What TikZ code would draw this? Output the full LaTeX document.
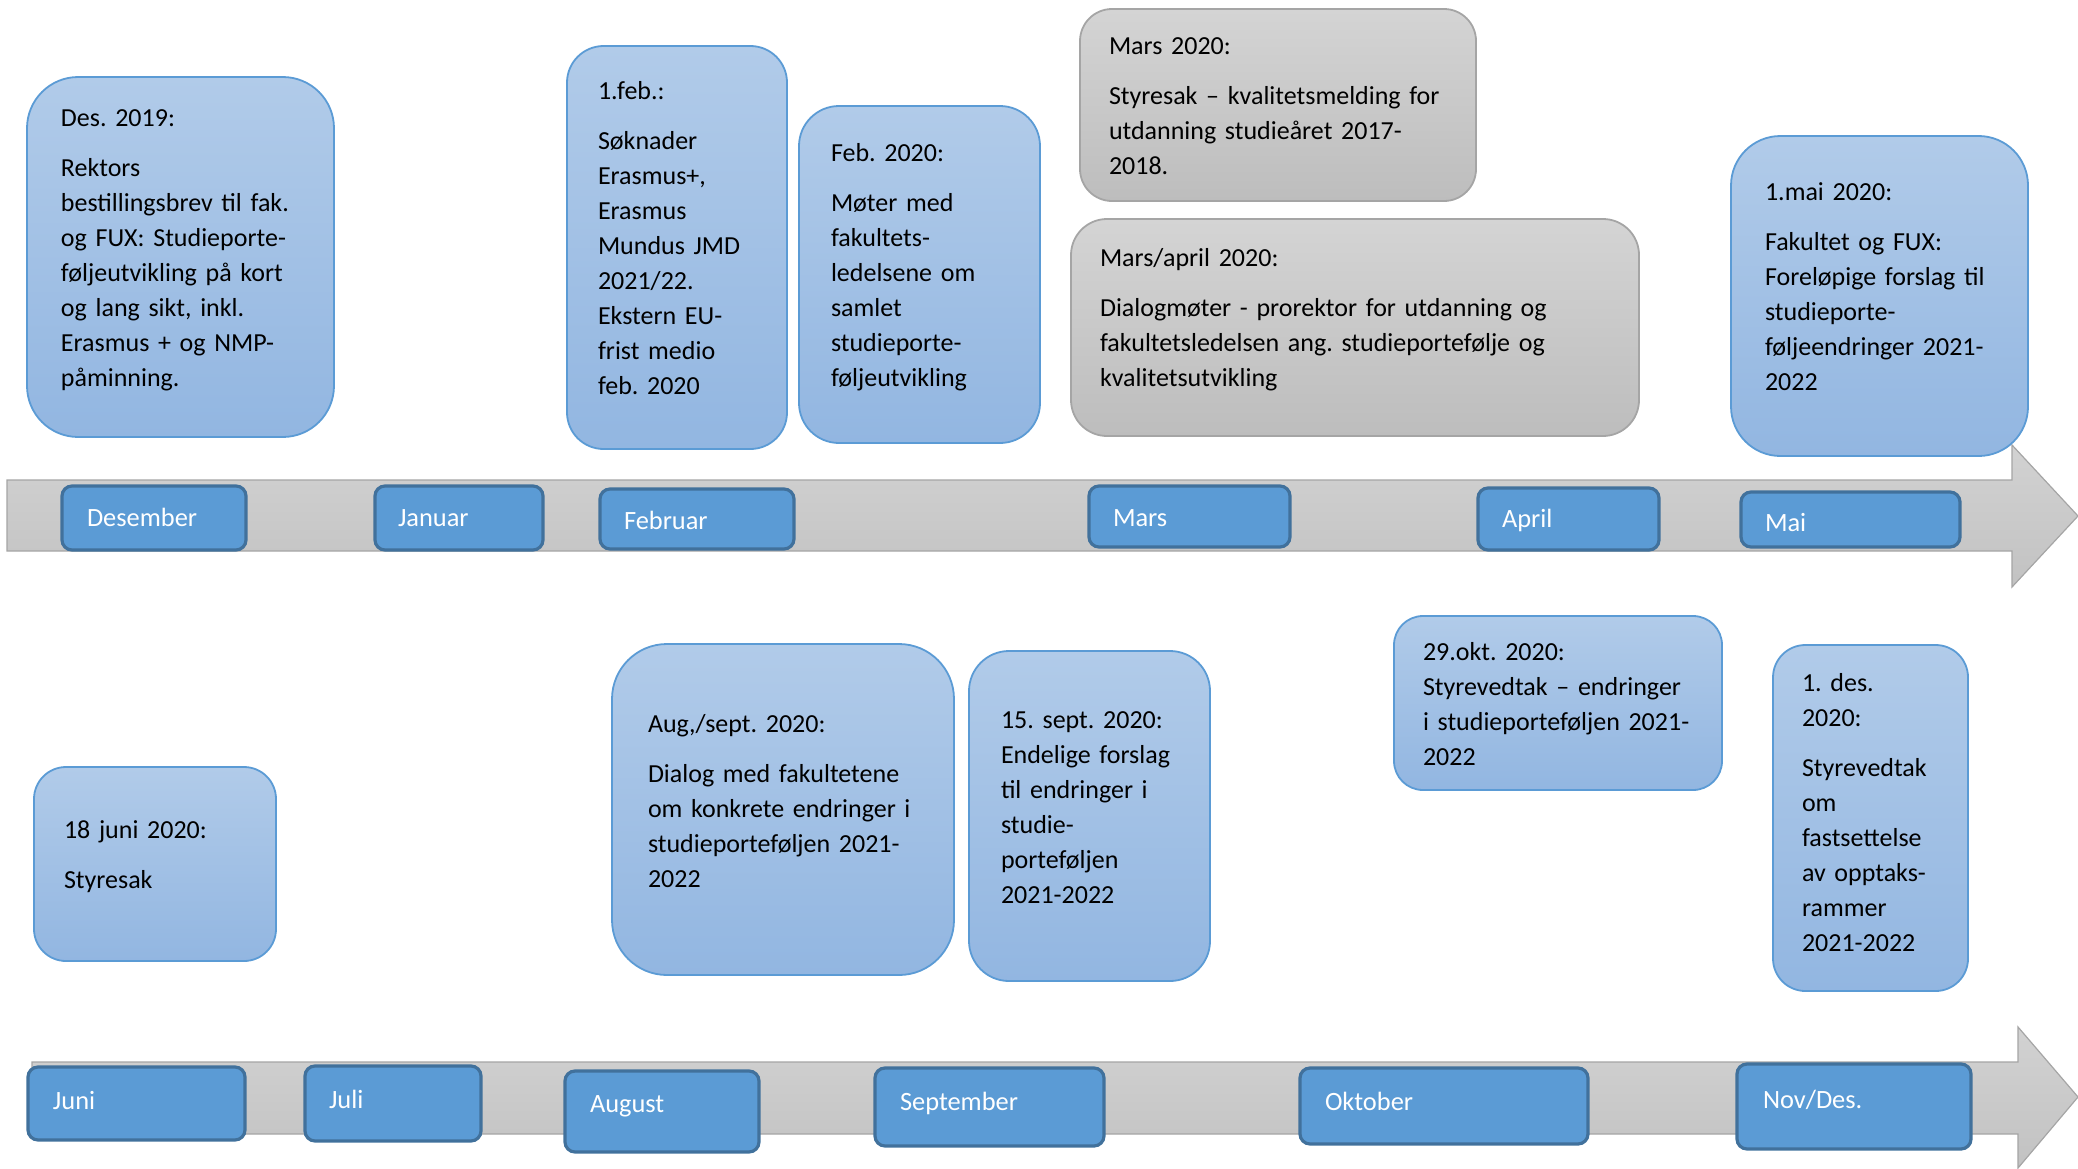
\documentclass[tikz,border=0pt]{standalone}
\usepackage{fontspec}
\setmainfont{Carlito}
\frenchspacing
\definecolor{bTop}{HTML}{B1CBE9}
\definecolor{bBot}{HTML}{92B6E1}
\definecolor{bLine}{HTML}{5B9BD5}
\definecolor{gTop}{HTML}{D4D4D4}
\definecolor{gBot}{HTML}{BDBDBD}
\definecolor{gLine}{HTML}{A5A5A5}
\definecolor{mFill}{HTML}{5B9BD5}
\definecolor{mLine}{HTML}{41719C}
\definecolor{aTop}{HTML}{D2D2D2}
\definecolor{aBot}{HTML}{C2C2C2}
\begin{document}
\begin{tikzpicture}[x=0.5pt,y=-0.5pt,
  every node/.style={inner sep=0pt, outer sep=0pt},
  bluebox/.style={draw=bLine, line width=0.9pt, top color=bTop, bottom color=bBot, rectangle},
  graybox/.style={draw=gLine, line width=0.9pt, top color=gTop, bottom color=gBot, rectangle},
  monthbox/.style={draw=mLine, line width=1.6pt, fill=mFill, rounded corners=5pt, rectangle},
  monthtxt/.style={font=\fontsize{13.2}{15}\selectfont, text=white, anchor=base west},
  txt/.style={font=\fontsize{13}{17.5}\selectfont, text width=280pt, align=left, anchor=base west},
  arrowshape/.style={draw=gLine, line width=0.6pt, top color=aTop, bottom color=aBot}
]
\useasboundingbox (0,0) rectangle (2078,1168);

% timeline arrows
\draw[arrowshape] (7,480) -- (2012,480) -- (2012,445) -- (2078,516) -- (2012,587) -- (2012,551) -- (7,551) -- cycle;
\draw[arrowshape] (32,1062) -- (2018,1062) -- (2018,1027) -- (2078,1097) -- (2018,1168) -- (2018,1134) -- (32,1134) -- cycle;

% top months
\node[monthbox, minimum width=92pt, minimum height=32pt] (mdes) at (154,518) {};
\node[monthbox, minimum width=84pt, minimum height=32pt] (mjan) at (459,518) {};
\node[monthbox, minimum width=97pt, minimum height=30pt] (mfeb) at (697,519) {};
\node[monthbox, minimum width=100.5pt, minimum height=30.5pt] (mmar) at (1189.5,516.5) {};
\node[monthbox, minimum width=90.5pt, minimum height=31pt] (mapr) at (1568.5,519) {};
\node[monthbox, minimum width=109.5pt, minimum height=27.5pt] (mmai) at (1850.5,519.5) {};
\node[monthtxt] (tdes) at (87,526) {Desember};
\node[monthtxt] (tjan) at (398,526) {Januar};
\node[monthtxt] (tfeb) at (624,529) {Februar};
\node[monthtxt] (tmar) at (1113,526) {Mars};
\node[monthtxt] (tapr) at (1502,527) {April};
\node[monthtxt] (tmai) at (1765,531) {Mai};

% bottom months
\node[monthbox, minimum width=108.5pt, minimum height=36.5pt] (mjun) at (136.5,1103.5) {};
\node[monthbox, minimum width=88pt, minimum height=37.5pt] (mjul) at (393,1103.5) {};
\node[monthbox, minimum width=97pt, minimum height=40.5pt] (maug) at (662,1111.5) {};
\node[monthbox, minimum width=114.5pt, minimum height=39pt] (msep) at (989.5,1107) {};
\node[monthbox, minimum width=144pt, minimum height=38pt] (mokt) at (1444,1106) {};
\node[monthbox, minimum width=117pt, minimum height=42.5pt] (mnov) at (1854,1106.5) {};
\node[monthtxt] (tjun) at (53,1109) {Juni};
\node[monthtxt] (tjul) at (329,1108) {Juli};
\node[monthtxt] (taug) at (590,1112) {August};
\node[monthtxt] (tsep) at (900,1110) {September};
\node[monthtxt] (tokt) at (1325,1110) {Oktober};
\node[monthtxt] (tnov) at (1763,1108) {Nov/Des.};

% top event boxes
\node[bluebox, rounded corners=25.6pt, minimum width=153.5pt, minimum height=180pt] (b1) at (180.5,257) {};
\node[bluebox, rounded corners=18.3pt, minimum width=110pt, minimum height=201.5pt] (b2) at (677,247.5) {};
\node[bluebox, rounded corners=20pt, minimum width=120.5pt, minimum height=168.5pt] (b3) at (919.5,274.5) {};
\node[graybox, rounded corners=16pt, minimum width=198pt, minimum height=96pt] (b4) at (1278,105) {};
\node[graybox, rounded corners=18pt, minimum width=284pt, minimum height=108.5pt] (b5) at (1355,327.5) {};
\node[bluebox, rounded corners=24.7pt, minimum width=148.5pt, minimum height=160pt] (b6) at (1879.5,296) {};

\node[txt] (t1) at (61,126) {Des. 2019:\\[7.7pt] Rektors\\ bestillingsbrev til fak.\\ og FUX: Studieporte-\\ føljeutvikling på kort\\ og lang sikt, inkl.\\ Erasmus + og NMP-\\ påminning.};
\node[txt] (t2) at (598,99) {1.feb.:\\[7.7pt] Søknader\\ Erasmus+,\\ Erasmus\\ Mundus JMD\\ 2021/22.\\ Ekstern EU-\\ frist medio\\ feb. 2020};
\node[txt] (t3) at (831,161) {Feb. 2020:\\[7.7pt] Møter med\\ fakultets-\\ ledelsene om\\ samlet\\ studieporte-\\ føljeutvikling};
\node[txt] (t4) at (1109,54) {Mars 2020:\\[7.7pt] Styresak – kvalitetsmelding for\\ utdanning studieåret 2017-\\ 2018.};
\node[txt] (t5) at (1100,266) {Mars/april 2020:\\[7.7pt] Dialogmøter - prorektor for utdanning og\\ fakultetsledelsen ang. studieportefølje og\\ kvalitetsutvikling};
\node[txt] (t6) at (1765,200) {1.mai 2020:\\[7.7pt] Fakultet og FUX:\\ Foreløpige forslag til\\ studieporte-\\ føljeendringer 2021-\\ 2022};

% bottom event boxes
\node[bluebox, rounded corners=16pt, minimum width=121pt, minimum height=97pt] (b7) at (155,864) {};
\node[bluebox, rounded corners=27.5pt, minimum width=171pt, minimum height=165.5pt] (b8) at (783,809.5) {};
\node[bluebox, rounded corners=20pt, minimum width=120.5pt, minimum height=165pt] (b9) at (1089.5,816) {};
\node[bluebox, rounded corners=14.5pt, minimum width=164pt, minimum height=87pt] (b10) at (1558,703) {};
\node[bluebox, rounded corners=16.2pt, minimum width=97.5pt, minimum height=173pt] (b11) at (1870.5,818) {};

\node[txt] (t7) at (64,838) {18 juni 2020:\\[7.7pt] Styresak};
\node[txt] (t8) at (648,732) {Aug,/sept. 2020:\\[7.7pt] Dialog med fakultetene\\ om konkrete endringer i\\ studieporteføljen 2021-\\ 2022};
\node[txt] (t9) at (1001,728) {15. sept. 2020:\\ Endelige forslag\\ til endringer i\\ studie-\\ porteføljen\\ 2021-2022};
\node[txt] (t10) at (1423,660) {29.okt. 2020:\\ Styrevedtak – endringer\\ i studieporteføljen 2021-\\ 2022};
\node[txt] (t11) at (1802,691) {1. des.\\ 2020:\\[7.7pt] Styrevedtak\\ om\\ fastsettelse\\ av opptaks-\\ rammer\\ 2021-2022};
\end{tikzpicture}
\end{document}
